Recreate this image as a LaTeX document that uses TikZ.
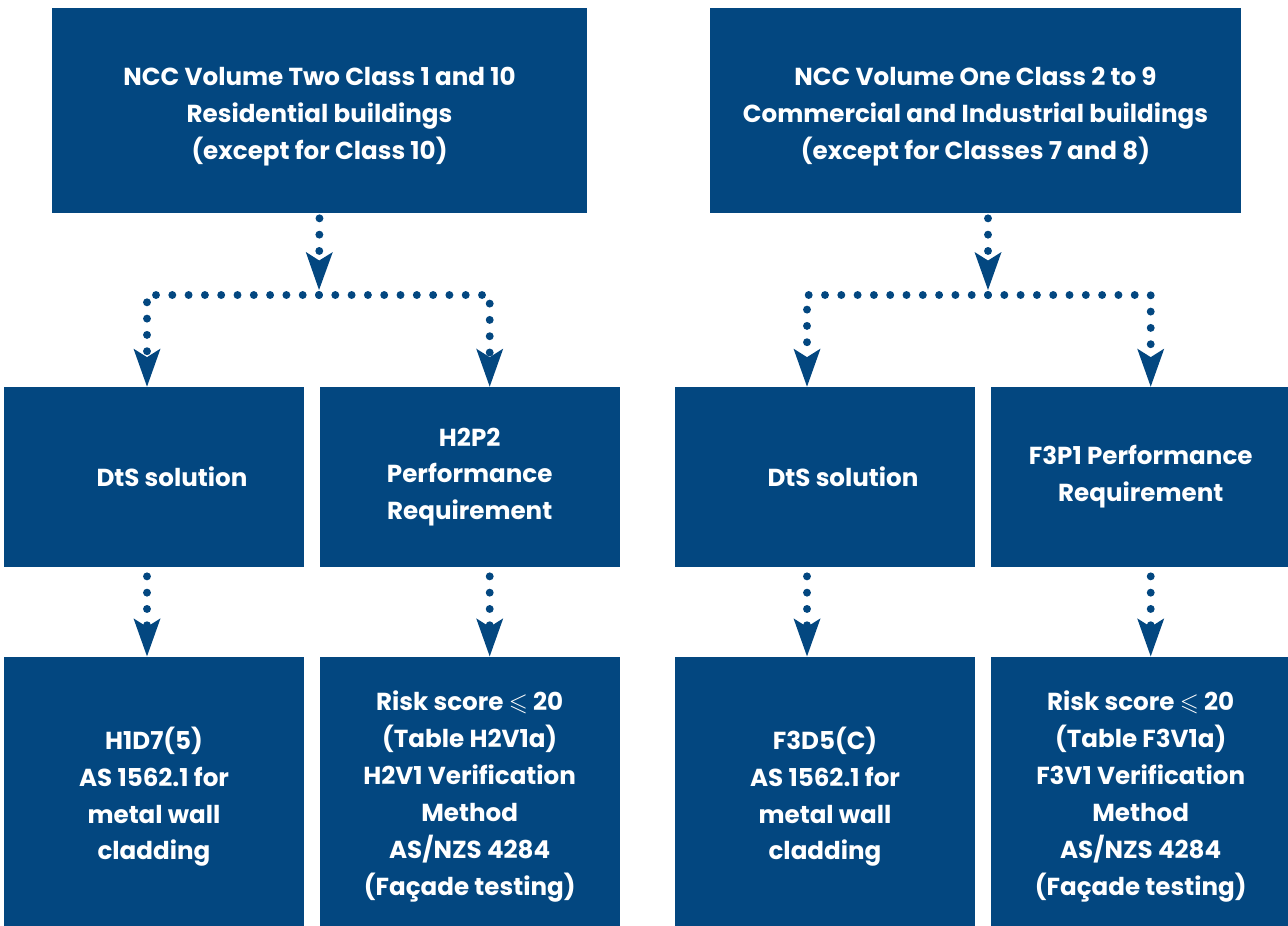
\documentclass[tikz,border=0pt]{standalone}
\usepackage{fontspec}
\setmainfont{Poppins}
\usepackage{amssymb}
\usetikzlibrary{arrows.meta, positioning}
\definecolor{nccblue}{RGB}{3,71,128}

\begin{document}
\begin{tikzpicture}[
  basebox/.style={rectangle, fill=nccblue, text=white, align=center, inner sep=0pt,
    font=\fontsize{14}{21}\selectfont\bfseries},
  topbox/.style={basebox, minimum height=4.1cm},
  midbox/.style={basebox, minimum width=6cm, minimum height=3.6cm},
  lowbox/.style={basebox, minimum width=6cm, minimum height=5.6cm},
  dotarrow/.style={nccblue, line width=4.5pt, line cap=round, dash pattern=on 0pt off 0.326cm,
    -{Stealth[length=0.76cm, width=0.54cm, inset=0.17cm, line width=0pt]}}
]
\useasboundingbox (0,0) rectangle (25.76,-18.5);

% top boxes
\node (vol2) [topbox, minimum width=10.7cm] at (6.39,-2.21)
  {\rule{0pt}{0.6cm}NCC Volume Two Class 1 and 10\\Residential buildings\\(except for Class 10)};
\node (vol1) [topbox, minimum width=10.62cm] at (19.51,-2.21)
  {\rule{0pt}{0.6cm}NCC Volume One Class 2 to 9\\Commercial and Industrial buildings\\(except for Classes 7 and 8)};

% second row
\node (dtsL) [midbox] at (3.08,-9.54) {\hspace*{0.72cm}DtS solution};
\node (perfL) [midbox, right=0.3cm of dtsL] {H2P2\\Performance\\Requirement};
\node (dtsR) [midbox] at (16.5,-9.54) {\hspace*{0.72cm}DtS solution};
\node (perfR) [midbox, right=0.3cm of dtsR] {F3P1 Performance\\Requirement};

% third row
\node (cladL) [lowbox, below=1.78cm of dtsL] {H1D7(5)\\AS 1562.1 for\\metal wall\\cladding};
\node (riskL) [lowbox, below=1.78cm of perfL]
  {Risk score $\leqslant$ 20\\(Table H2V1a)\\H2V1 Verification\\Method\\AS/NZS 4284\\(Façade testing)};
\node (cladR) [lowbox, below=1.78cm of dtsR] {F3D5(C)\\AS 1562.1 for\\metal wall\\cladding};
\node (riskR) [lowbox, below=1.78cm of perfR]
  {Risk score $\leqslant$ 20\\(Table F3V1a)\\F3V1 Verification\\Method\\AS/NZS 4284\\(Façade testing)};

% junctions
\coordinate (jL) at (6.38,-5.9);
\coordinate (jR) at (19.76,-5.9);

% left tree
\draw [dotarrow, shorten <=0.1cm, shorten >=0.1cm] (vol2.south) -- (jL);
\draw [dotarrow] (jL) -| ([xshift=-0.14cm]dtsL.north);
\draw [dotarrow] (jL) -| ([xshift=0.4cm]perfL.north);
\draw [dotarrow, shorten <=0.18cm] ([xshift=-0.14cm]dtsL.south) -- ([xshift=-0.14cm]cladL.north);
\draw [dotarrow, shorten <=0.18cm] ([xshift=0.4cm]perfL.south) -- ([xshift=0.4cm]riskL.north);

% right tree
\draw [dotarrow, shorten <=0.1cm, shorten >=0.1cm] (vol1.south -| jR) -- (jR);
\draw [dotarrow] (jR) -| ([xshift=-0.36cm]dtsR.north);
\draw [dotarrow] (jR) -| ([xshift=0.2cm]perfR.north);
\draw [dotarrow, shorten <=0.18cm] ([xshift=-0.36cm]dtsR.south) -- ([xshift=-0.36cm]cladR.north);
\draw [dotarrow, shorten <=0.18cm] ([xshift=0.2cm]perfR.south) -- ([xshift=0.2cm]riskR.north);

\end{tikzpicture}
\end{document}
